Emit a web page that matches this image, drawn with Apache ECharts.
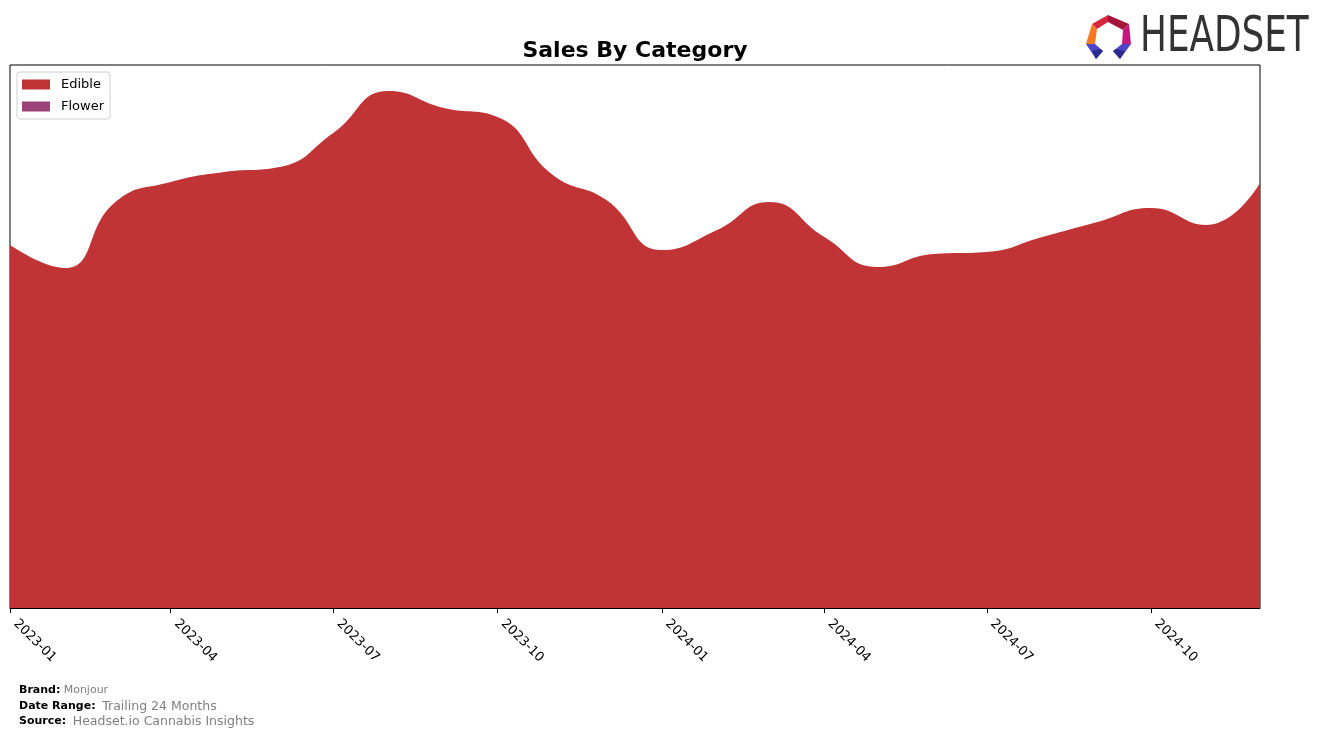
<!DOCTYPE html>
<html>
<head>
<meta charset="utf-8">
<script src="https://cdn.jsdelivr.net/npm/echarts@6/dist/echarts.min.js"></script>
<style>
  html, body { margin: 0; padding: 0; background: #fff; }
  #chart { width: 1324px; height: 738px; }
</style>
</head>
<body>
<div id="chart"></div>
<script>
// ---- data ----
const months = ['2023-01','2023-02','2023-03','2023-04','2023-05','2023-06','2023-07','2023-08','2023-09','2023-10','2023-11','2023-12',
                '2024-01','2024-02','2024-03','2024-04','2024-05','2024-06','2024-07','2024-08','2024-09','2024-10','2024-11','2024-12'];
const edible = [363, 340, 406, 426, 436, 441, 475, 517, 500, 491, 433, 408,
                358, 378, 406, 371, 341, 354, 356, 371, 386, 400, 383, 425];
const flower = [2, 2, 2, 1.5, 1.5, 1, 1, 1, 1, 1, 1, 1,
                1, 1, 1, 1, 1, 1, 1, 1, 1, 1, 1, 1];
const tickLabels = ['2023-01','2023-04','2023-07','2023-10','2024-01','2024-04','2024-07','2024-10'];
const seriesNames = ['Edible', 'Flower'];
const colors = ['#c13435', '#9b4279'];

function ts(m) { const [y, mo] = m.split('-').map(Number); return Date.UTC(y, mo - 1, 1); }
const tickValues = tickLabels.map(ts);

const chart = echarts.init(document.getElementById('chart'), null, { renderer: 'canvas' });
const FONT = 'DejaVu Sans';

const option = {
  animation: false,
  backgroundColor: '#fff',
  title: {
    text: 'Sales By Category',
    left: 630, top: 35, textAlign: 'center',
    textStyle: { fontFamily: FONT, fontSize: 22, fontWeight: 'bold', color: '#000' }
  },
  legend: {
    left: 17, top: 72, orient: 'vertical',
    data: seriesNames.map(n => ({ name: n, icon: 'rect' })),
    itemWidth: 28, itemHeight: 10, itemGap: 9,
    padding: [6, 6, 6, 5],
    borderColor: '#d0d0d0', borderWidth: 1, borderRadius: 3,
    backgroundColor: '#fff',
    textStyle: { fontFamily: FONT, fontSize: 13, color: '#000', padding: [0, 0, 0, 6] }
  },
  grid: {
    left: 10, right: 64, top: 65, bottom: 130,
    show: true, borderColor: '#000', borderWidth: 1, backgroundColor: 'transparent'
  },
  xAxis: {
    type: 'value',
    min: ts(months[0]), max: ts(months[months.length - 1]),
    axisLine: { show: true, onZero: false, lineStyle: { color: '#000', width: 1 } },
    axisTick: { show: true, length: 5, lineStyle: { color: '#000' }, customValues: tickValues },
    axisLabel: {
      customValues: tickValues,
      rotate: -45, margin: 8, padding: [0, 0, 0, 8],
      fontFamily: FONT, fontSize: 13, color: '#000',
      formatter: function (v) {
        const d = new Date(v);
        return d.getUTCFullYear() + '-' + String(d.getUTCMonth() + 1).padStart(2, '0');
      }
    },
    splitLine: { show: false }
  },
  yAxis: {
    type: 'value', min: 0, max: 543, show: false, splitLine: { show: false }
  },
  series: seriesNames.map((name, i) => ({
    name: name,
    type: 'line',
    stack: 'total',
    smooth: 0.5,
    showSymbol: false,
    symbol: 'none',
    lineStyle: { width: 0 },
    itemStyle: { color: colors[i] },
    areaStyle: { color: colors[i], opacity: 1 },
    data: months.map((m, j) => [ts(m), (i === 0 ? edible : flower)[j]])
  })),
  graphic: [
    { type: 'polygon', shape: { points: [[1092,24],[1108,15],[1108,22],[1097,29]] }, style: { fill: '#d8263c' } },
    { type: 'polygon', shape: { points: [[1108,15],[1129,24],[1123,30],[1108,22]] }, style: { fill: '#a5153c' } },
    { type: 'polygon', shape: { points: [[1092,24],[1097,29],[1095,44],[1086,44]] }, style: { fill: '#f47b22' } },
    { type: 'polygon', shape: { points: [[1129,24],[1131,44],[1122,44],[1123,30]] }, style: { fill: '#c2187c' } },
    { type: 'polygon', shape: { points: [[1086,44],[1095,44],[1103,51],[1096,59]] }, style: { fill: '#4e46c8' } },
    { type: 'polygon', shape: { points: [[1096,59],[1103,51],[1100,49],[1092,51]] }, style: { fill: '#2c2a8c' } },
    { type: 'polygon', shape: { points: [[1131,44],[1122,44],[1113,51],[1120,59]] }, style: { fill: '#4e46c8' } },
    { type: 'polygon', shape: { points: [[1120,59],[1113,51],[1116,49],[1125,51]] }, style: { fill: '#2c2a8c' } },
    { type: 'text', x: 1140, y: 38, scaleX: 0.73, scaleY: 1,
      style: { text: 'HEADSET', fill: '#333', font: '49px "DejaVu Sans", sans-serif', verticalAlign: 'middle', align: 'left' } },
    { type: 'text', left: 19, top: 684,
      style: { text: '{b|Brand:} {g|Monjour}', rich: {
        b: { fontFamily: FONT, fontSize: 11, fontWeight: 'bold', fill: '#000' },
        g: { fontFamily: FONT, fontSize: 11, fill: '#808080' } } } },
    { type: 'text', left: 19, top: 700,
      style: { text: '{b|Date Range:}  {g|Trailing 24 Months}', rich: {
        b: { fontFamily: FONT, fontSize: 11, fontWeight: 'bold', fill: '#000' },
        g: { fontFamily: FONT, fontSize: 12.5, fill: '#808080' } } } },
    { type: 'text', left: 19, top: 715,
      style: { text: '{b|Source:}  {g|Headset.io Cannabis Insights}', rich: {
        b: { fontFamily: FONT, fontSize: 11, fontWeight: 'bold', fill: '#000' },
        g: { fontFamily: FONT, fontSize: 12.5, fill: '#808080' } } } }
  ]
};
chart.setOption(option);
</script>
</body>
</html>
